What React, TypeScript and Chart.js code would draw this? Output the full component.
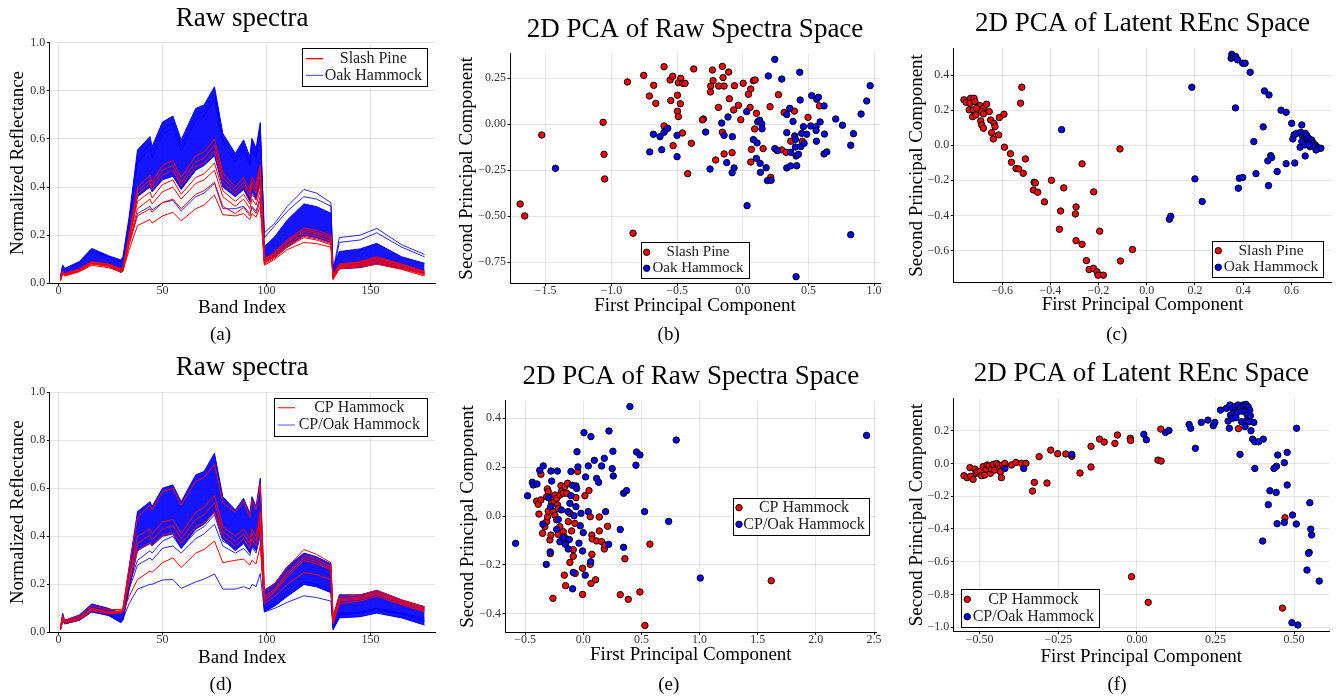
import { useEffect, useRef } from "react";
import { Chart, registerables } from "chart.js";

Chart.register(...registerables);

const SERIF = "'Liberation Serif', 'Times New Roman', 'DejaVu Serif', serif";
const RED = "#ff0000";
const BLUE = "#0000ff";
const GRID = "rgba(0,0,0,0.10)";

// ---------------- Spectra panels (a) and (d) ----------------
const bandIndex = [1, 2, 3, 10, 16, 24, 30, 31, 34, 38, 44, 45, 50, 55, 59, 66, 70, 75, 79, 85, 89, 92, 93, 95, 97, 99, 104, 110, 118, 124, 131, 132, 135, 145, 153, 165, 176];
const bandTicks = [0, 50, 100, 150];
const bandTickLabels = ["0", "50", "100", "150"];
const reflTicks = [0, 0.2, 0.4, 0.6, 0.8, 1.0];
const reflTickLabels = ["0.0", "0.2", "0.4", "0.6", "0.8", "1.0"];

// (a) Slash Pine (red) and Oak Hammock (blue)
const aOakUpper = [0.028, 0.076, 0.062, 0.090, 0.145, 0.115, 0.097, 0.110, 0.277, 0.554, 0.610, 0.568, 0.670, 0.695, 0.596, 0.727, 0.741, 0.817, 0.623, 0.540, 0.596, 0.526, 0.602, 0.561, 0.668, 0.152, 0.194, 0.263, 0.330, 0.319, 0.291, 0.069, 0.132, 0.143, 0.166, 0.110, 0.083];
const aOakLower = [0.010, 0.048, 0.035, 0.055, 0.085, 0.070, 0.045, 0.050, 0.180, 0.360, 0.400, 0.380, 0.430, 0.445, 0.390, 0.470, 0.490, 0.530, 0.400, 0.360, 0.390, 0.340, 0.380, 0.350, 0.420, 0.090, 0.110, 0.150, 0.200, 0.190, 0.170, 0.020, 0.060, 0.065, 0.080, 0.060, 0.040];
const aOakLow = [0.015, 0.045, 0.035, 0.055, 0.085, 0.075, 0.055, 0.060, 0.170, 0.290, 0.320, 0.305, 0.335, 0.345, 0.300, 0.360, 0.375, 0.415, 0.310, 0.310, 0.320, 0.290, 0.320, 0.300, 0.360, 0.090, 0.120, 0.160, 0.200, 0.190, 0.170, 0.020, 0.065, 0.072, 0.085, 0.065, 0.040];
const aOakHigh1 = [0.025, 0.070, 0.058, 0.085, 0.135, 0.110, 0.090, 0.100, 0.260, 0.520, 0.580, 0.540, 0.640, 0.665, 0.570, 0.700, 0.715, 0.790, 0.600, 0.520, 0.575, 0.505, 0.580, 0.540, 0.645, 0.210, 0.250, 0.320, 0.390, 0.375, 0.335, 0.050, 0.190, 0.200, 0.228, 0.160, 0.120];
const aOakHigh2 = [0.025, 0.070, 0.058, 0.085, 0.135, 0.110, 0.090, 0.100, 0.255, 0.500, 0.560, 0.520, 0.620, 0.645, 0.550, 0.680, 0.695, 0.765, 0.580, 0.505, 0.555, 0.490, 0.560, 0.525, 0.625, 0.190, 0.240, 0.300, 0.360, 0.350, 0.320, 0.040, 0.170, 0.180, 0.210, 0.150, 0.110];
const aPine1 = [0.020, 0.050, 0.040, 0.060, 0.090, 0.080, 0.060, 0.065, 0.200, 0.400, 0.450, 0.420, 0.490, 0.510, 0.440, 0.530, 0.545, 0.600, 0.460, 0.400, 0.440, 0.390, 0.440, 0.410, 0.490, 0.100, 0.130, 0.180, 0.230, 0.220, 0.200, 0.030, 0.080, 0.090, 0.110, 0.080, 0.050];
const aPine2 = [0.019, 0.049, 0.039, 0.059, 0.089, 0.079, 0.059, 0.063, 0.195, 0.385, 0.430, 0.405, 0.470, 0.490, 0.420, 0.505, 0.520, 0.575, 0.440, 0.385, 0.420, 0.375, 0.420, 0.390, 0.470, 0.098, 0.125, 0.175, 0.222, 0.212, 0.192, 0.029, 0.078, 0.088, 0.105, 0.078, 0.048];
const aPine3 = [0.018, 0.048, 0.038, 0.058, 0.088, 0.078, 0.058, 0.062, 0.190, 0.370, 0.415, 0.390, 0.450, 0.470, 0.405, 0.485, 0.500, 0.550, 0.420, 0.370, 0.405, 0.360, 0.405, 0.375, 0.450, 0.095, 0.120, 0.170, 0.215, 0.205, 0.185, 0.028, 0.075, 0.085, 0.100, 0.075, 0.045];
const aPine4 = [0.016, 0.045, 0.035, 0.055, 0.085, 0.075, 0.055, 0.060, 0.180, 0.340, 0.380, 0.355, 0.410, 0.430, 0.370, 0.440, 0.455, 0.500, 0.385, 0.340, 0.370, 0.330, 0.370, 0.345, 0.410, 0.090, 0.115, 0.160, 0.205, 0.195, 0.175, 0.025, 0.070, 0.080, 0.095, 0.070, 0.040];
const aPine5 = [0.015, 0.043, 0.033, 0.052, 0.082, 0.072, 0.052, 0.057, 0.170, 0.310, 0.350, 0.330, 0.380, 0.400, 0.350, 0.415, 0.430, 0.470, 0.360, 0.320, 0.350, 0.310, 0.350, 0.325, 0.385, 0.085, 0.110, 0.155, 0.195, 0.185, 0.165, 0.022, 0.068, 0.075, 0.090, 0.065, 0.038];
const aPine6 = [0.015, 0.042, 0.032, 0.050, 0.080, 0.070, 0.050, 0.055, 0.160, 0.280, 0.310, 0.295, 0.335, 0.350, 0.310, 0.370, 0.385, 0.420, 0.320, 0.290, 0.315, 0.280, 0.315, 0.290, 0.345, 0.080, 0.105, 0.150, 0.190, 0.180, 0.160, 0.020, 0.065, 0.072, 0.085, 0.062, 0.035];
const aPine7 = [0.012, 0.040, 0.030, 0.048, 0.075, 0.065, 0.048, 0.052, 0.140, 0.240, 0.265, 0.250, 0.280, 0.295, 0.260, 0.310, 0.325, 0.367, 0.285, 0.280, 0.290, 0.265, 0.290, 0.275, 0.320, 0.075, 0.100, 0.140, 0.170, 0.165, 0.150, 0.015, 0.060, 0.068, 0.080, 0.058, 0.030];

// (d) CP Hammock (red) and CP/Oak Hammock (blue)
const dMixUpper = [0.024, 0.080, 0.050, 0.072, 0.118, 0.100, 0.080, 0.100, 0.274, 0.503, 0.544, 0.524, 0.600, 0.614, 0.544, 0.656, 0.670, 0.746, 0.565, 0.510, 0.558, 0.496, 0.565, 0.524, 0.642, 0.176, 0.204, 0.274, 0.330, 0.315, 0.285, 0.065, 0.156, 0.156, 0.175, 0.135, 0.107];
const dMixLower = [0.010, 0.050, 0.035, 0.050, 0.085, 0.070, 0.040, 0.050, 0.180, 0.340, 0.370, 0.360, 0.400, 0.410, 0.350, 0.430, 0.450, 0.500, 0.390, 0.340, 0.370, 0.330, 0.360, 0.340, 0.420, 0.085, 0.110, 0.150, 0.200, 0.190, 0.165, 0.010, 0.060, 0.065, 0.080, 0.060, 0.030];
const dMixLow1 = [0.012, 0.045, 0.035, 0.050, 0.085, 0.072, 0.050, 0.055, 0.120, 0.180, 0.200, 0.200, 0.218, 0.220, 0.183, 0.210, 0.222, 0.243, 0.180, 0.180, 0.190, 0.180, 0.200, 0.190, 0.245, 0.085, 0.100, 0.125, 0.152, 0.145, 0.130, 0.020, 0.070, 0.080, 0.100, 0.080, 0.060];
const dMixLow2 = [0.014, 0.050, 0.040, 0.055, 0.090, 0.075, 0.050, 0.055, 0.200, 0.300, 0.340, 0.330, 0.380, 0.400, 0.350, 0.420, 0.440, 0.490, 0.380, 0.350, 0.380, 0.340, 0.380, 0.355, 0.430, 0.100, 0.120, 0.160, 0.210, 0.200, 0.180, 0.020, 0.080, 0.085, 0.100, 0.080, 0.050];
const dMixLow3 = [0.013, 0.048, 0.038, 0.052, 0.088, 0.073, 0.050, 0.055, 0.180, 0.280, 0.310, 0.300, 0.350, 0.360, 0.330, 0.390, 0.410, 0.450, 0.360, 0.330, 0.350, 0.320, 0.355, 0.330, 0.400, 0.095, 0.110, 0.150, 0.200, 0.190, 0.170, 0.020, 0.075, 0.080, 0.095, 0.075, 0.045];
const dCp1 = [0.020, 0.070, 0.050, 0.068, 0.110, 0.095, 0.095, 0.100, 0.270, 0.480, 0.530, 0.510, 0.585, 0.600, 0.530, 0.630, 0.645, 0.700, 0.540, 0.500, 0.545, 0.480, 0.550, 0.510, 0.620, 0.170, 0.200, 0.270, 0.345, 0.325, 0.290, 0.060, 0.150, 0.155, 0.175, 0.135, 0.105];
const dCp2 = [0.018, 0.060, 0.045, 0.060, 0.100, 0.085, 0.090, 0.095, 0.230, 0.400, 0.430, 0.410, 0.460, 0.470, 0.410, 0.500, 0.520, 0.570, 0.440, 0.400, 0.430, 0.390, 0.430, 0.400, 0.500, 0.150, 0.180, 0.250, 0.320, 0.305, 0.275, 0.050, 0.140, 0.148, 0.168, 0.130, 0.100];
const dCp3 = [0.017, 0.058, 0.044, 0.058, 0.098, 0.083, 0.088, 0.092, 0.220, 0.370, 0.405, 0.385, 0.430, 0.445, 0.390, 0.470, 0.490, 0.540, 0.420, 0.380, 0.410, 0.370, 0.410, 0.380, 0.470, 0.140, 0.175, 0.240, 0.310, 0.295, 0.265, 0.045, 0.135, 0.142, 0.162, 0.125, 0.095];
const dCp4 = [0.016, 0.055, 0.042, 0.056, 0.095, 0.080, 0.085, 0.090, 0.210, 0.340, 0.375, 0.360, 0.405, 0.415, 0.370, 0.440, 0.455, 0.500, 0.400, 0.360, 0.390, 0.350, 0.390, 0.360, 0.440, 0.130, 0.170, 0.230, 0.300, 0.285, 0.260, 0.040, 0.130, 0.138, 0.158, 0.120, 0.090];
const dCp5 = [0.014, 0.050, 0.038, 0.052, 0.090, 0.078, 0.080, 0.085, 0.150, 0.220, 0.255, 0.250, 0.290, 0.310, 0.270, 0.330, 0.345, 0.380, 0.290, 0.300, 0.305, 0.280, 0.300, 0.285, 0.360, 0.120, 0.150, 0.200, 0.250, 0.240, 0.220, 0.035, 0.120, 0.130, 0.150, 0.115, 0.085];

// ---------------- PCA scatter panels ----------------
type Pt = [number, number];

// (b) raw spectra PCA
const rawPine: Pt[] = [[-1.695,-0.433],[-1.66,-0.498],[-1.53,-0.058],[-1.063,0.011],[-1.056,-0.163],[-1.051,-0.297],[-0.878,0.23],[-0.835,-0.592],[-0.754,0.266],[-0.711,0.154],[-0.678,0.212],[-0.662,0.114],[-0.599,0.313],[-0.599,-0.009],[-0.553,0.241],[-0.548,0.129],[-0.533,0.261],[-0.53,-0.116],[-0.497,0.158],[-0.497,0.071],[-0.49,0.042],[-0.49,0.226],[-0.475,0.112],[-0.472,0.25],[-0.457,0.223],[-0.439,0.223],[-0.459,-0.047],[-0.419,-0.268],[-0.391,-0.103],[-0.373,0.301],[-0.299,0.029],[-0.307,0.024],[-0.246,0.176],[-0.244,0.208],[-0.231,0.295],[-0.226,0.237],[-0.206,-0.194],[-0.185,0.092],[-0.183,0.208],[-0.155,0.315],[-0.15,0.254],[-0.142,0.208],[-0.155,-0.043],[-0.142,-0.161],[-0.107,0.284],[-0.102,0.139],[-0.081,-0.154],[-0.069,0.078],[-0.063,0.21],[-0.033,0.103],[-0.015,0.025],[0.003,0.223],[0.043,0.163],[0.056,0.092],[0.061,0.192],[0.066,-0.136],[0.061,-0.205],[0.081,0.237],[0.094,0.241],[0.091,-0.025],[0.104,0.06],[0.155,-0.132],[0.208,0.096],[0.213,-0.288],[0.272,0.161],[0.297,-0.139],[0.315,0.065],[0.33,-0.152],[0.393,0.072],[0.365,-0.092],[0.454,-0.092],[0.497,0.038],[0.584,0.1]];
const rawOak: Pt[] = [[-1.426,-0.239],[-0.708,-0.15],[-0.68,-0.054],[-0.63,-0.067],[-0.617,-0.138],[-0.599,-0.043],[-0.571,-0.022],[-0.5,-0.06],[-0.5,-0.176],[-0.282,-0.042],[-0.249,-0.243],[-0.16,0.007],[-0.142,-0.06],[-0.122,-0.208],[-0.112,0.04],[-0.079,-0.067],[-0.081,-0.263],[-0.066,-0.237],[0.03,0.069],[0.033,-0.442],[0.081,-0.083],[0.104,-0.185],[0.109,-0.101],[0.114,0.014],[0.129,0.022],[0.135,-0.261],[0.132,-0.212],[0.145,0.002],[0.147,-0.024],[0.178,-0.236],[0.188,-0.306],[0.195,0.263],[0.216,-0.304],[0.244,0.353],[0.244,-0.132],[0.264,-0.143],[0.297,0.246],[0.335,0.053],[0.335,-0.045],[0.335,-0.237],[0.358,0.087],[0.365,-0.152],[0.365,-0.226],[0.383,0.016],[0.396,-0.063],[0.401,-0.082],[0.401,-0.123],[0.406,-0.172],[0.411,-0.225],[0.424,-0.163],[0.406,-0.828],[0.434,0.283],[0.437,0.132],[0.442,-0.121],[0.449,-0.049],[0.462,-0.013],[0.467,-0.103],[0.487,-0.054],[0.525,0.156],[0.518,-0.009],[0.558,-0.013],[0.558,-0.034],[0.563,0.136],[0.576,0.147],[0.561,-0.092],[0.589,0.013],[0.619,0.1],[0.622,-0.053],[0.619,-0.161],[0.64,-0.15],[0.708,0.029],[0.759,-0.005],[0.822,-0.114],[0.822,-0.6],[0.843,-0.051],[0.901,0.056],[0.944,0.127],[0.97,0.21]];

// (c) latent REnc PCA
const latentPine: Pt[] = [[-0.758,0.259],[-0.749,0.245],[-0.73,0.268],[-0.716,0.268],[-0.733,0.24],[-0.712,0.249],[-0.698,0.221],[-0.691,0.226],[-0.736,0.202],[-0.719,0.202],[-0.705,0.211],[-0.677,0.211],[-0.664,0.234],[-0.722,0.163],[-0.708,0.173],[-0.684,0.192],[-0.677,0.179],[-0.653,0.192],[-0.688,0.139],[-0.684,0.116],[-0.677,0.097],[-0.647,0.144],[-0.633,0.125],[-0.629,0.106],[-0.643,0.072],[-0.636,0.036],[-0.614,0.059],[-0.611,0.158],[-0.592,0.177],[-0.518,0.331],[-0.523,0.24],[-0.59,-0.011],[-0.565,-0.048],[-0.561,-0.097],[-0.503,-0.078],[-0.542,-0.133],[-0.531,-0.135],[-0.512,-0.16],[-0.467,-0.211],[-0.462,-0.215],[-0.47,-0.255],[-0.452,-0.268],[-0.424,-0.323],[-0.395,-0.2],[-0.344,-0.243],[-0.357,-0.375],[-0.362,-0.479],[-0.293,-0.352],[-0.296,-0.392],[-0.268,-0.106],[-0.22,-0.266],[-0.195,-0.49],[-0.293,-0.544],[-0.268,-0.565],[-0.25,-0.658],[-0.239,-0.709],[-0.221,-0.702],[-0.206,-0.722],[-0.202,-0.741],[-0.18,-0.741],[-0.111,-0.021],[-0.109,-0.66],[-0.059,-0.595]];
const latentOak: Pt[] = [[-0.353,0.089],[0.094,-0.422],[0.0995,-0.405],[0.353,0.519],[0.35,0.496],[0.359,0.506],[0.369,0.506],[0.377,0.487],[0.398,0.468],[0.408,0.468],[0.429,0.416],[0.187,0.331],[0.368,0.213],[0.488,0.31],[0.507,0.287],[0.557,0.2],[0.578,0.188],[0.601,0.125],[0.643,0.116],[0.483,0.105],[0.444,0.021],[0.514,-0.059],[0.518,-0.07],[0.502,-0.089],[0.578,-0.105],[0.614,-0.101],[0.541,-0.15],[0.453,-0.162],[0.384,-0.188],[0.398,-0.184],[0.38,-0.245],[0.505,-0.23],[0.2,-0.192],[0.23,-0.321],[0.636,-0.011],[0.657,-0.061],[0.606,0.036],[0.611,0.059],[0.622,0.068],[0.639,0.074],[0.647,0.049],[0.657,0.068],[0.664,0.055],[0.65,0.03],[0.671,0.04],[0.677,0.021],[0.684,0.03],[0.691,0.011],[0.698,0.002],[0.705,-0.008],[0.712,-0.017],[0.722,-0.017],[0.702,-0.027],[0.677,-0.008],[0.666,0.011],[0.688,-0.002],[0.643,0.021],[0.657,0.002],[0.675,0.002]];

// (e) raw spectra PCA
const rawCp: Pt[] = [[-0.364,0.171],[-0.401,0.061],[-0.387,0.048],[-0.364,0.066],[-0.381,0.008],[-0.35,-0.071],[-0.33,-0.044],[-0.315,-0.023],[-0.307,-0.003],[-0.301,0.02],[-0.309,0.111],[-0.301,0.1],[-0.315,0.079],[-0.287,-0.098],[-0.278,-0.078],[-0.284,-0.154],[-0.272,0.056],[-0.258,0.018],[-0.249,0.061],[-0.258,0.079],[-0.244,0.086],[-0.229,0.072],[-0.221,0.045],[-0.215,0.031],[-0.201,0.086],[-0.192,0.124],[-0.186,0.102],[-0.172,0.093],[-0.158,0.12],[-0.143,0.093],[-0.135,0.134],[-0.244,0.004],[-0.229,-0.016],[-0.201,-0.044],[-0.215,-0.075],[-0.172,-0.064],[-0.163,-0.085],[-0.143,-0.102],[-0.129,-0.023],[-0.115,0.011],[-0.1,-0.061],[-0.086,-0.138],[-0.086,-0.165],[-0.115,-0.19],[-0.163,-0.242],[-0.152,-0.285],[-0.069,-0.235],[-0.063,0.075],[-0.049,0.182],[-0.072,-0.03],[0.014,0.083],[0.049,0.104],[-0.006,-0.214],[-0.006,-0.321],[0.06,-0.003],[0.074,-0.078],[0.077,-0.094],[0.06,-0.198],[0.074,-0.157],[0.066,-0.276],[0.106,-0.261],[0.138,-0.004],[0.138,-0.061],[0.115,-0.102],[0.158,-0.105],[0.181,-0.135],[0.186,-0.119],[0.209,-0.042],[-0.261,-0.337],[1.616,-0.265],[0.573,-0.115],[0.53,-0.448],[0.487,-0.311],[0.387,-0.341],[0.318,-0.322],[0.358,-0.175]];
const rawCpOak: Pt[] = [[-0.582,-0.112],[0.401,0.448],[0.221,0.348],[0.006,0.341],[0.066,0.325],[0.799,0.311],[2.436,0.33],[0.255,0.265],[0.458,0.262],[0.487,0.25],[0.453,0.208],[0.527,0.018],[0.734,-0.022],[1.006,-0.254],[0.347,0.093],[0.372,0.104],[0.318,-0.055],[0.347,-0.128],[-0.479,0.083],[-0.438,0.138],[-0.43,0.127],[-0.398,0.131],[-0.375,0.187],[-0.344,0.205],[-0.278,0.184],[-0.223,0.184],[-0.272,0.143],[-0.347,-0.033],[-0.298,0.075],[-0.281,0.038],[-0.318,-0.198],[-0.284,-0.147],[-0.229,-0.055],[-0.215,-0.014],[-0.201,-0.105],[-0.172,-0.089],[-0.155,-0.116],[-0.129,-0.135],[-0.12,-0.096],[-0.189,0.025],[-0.132,0.018],[-0.106,0.182],[-0.095,0.126],[-0.106,0.083],[-0.115,0.052],[-0.08,0.001],[-0.063,0.123],[-0.057,0.113],[-0.063,0.038],[-0.054,0.263],[-0.046,0.201],[-0.02,0.011],[-0.026,-0.04],[-0.037,-0.111],[-0.006,-0.143],[0.0,-0.068],[-0.086,-0.231],[-0.092,-0.298],[0.017,-0.242],[0.02,0.16],[0.043,0.205],[0.043,0.018],[0.063,-0.187],[0.095,0.228],[0.115,0.154],[0.132,0.138],[0.158,0.205],[0.181,0.236],[0.249,0.194],[0.258,0.164],[0.192,0.018],[0.218,-0.116]];

// (f) latent REnc PCA
const latentCp: Pt[] = [[-0.55,-0.075],[-0.54,-0.087],[-0.531,-0.026],[-0.529,-0.079],[-0.521,-0.098],[-0.515,-0.035],[-0.512,-0.061],[-0.508,-0.051],[-0.497,-0.047],[-0.494,-0.075],[-0.489,-0.02],[-0.484,-0.071],[-0.48,-0.035],[-0.476,-0.01],[-0.47,-0.014],[-0.466,-0.061],[-0.462,-0.035],[-0.457,-0.006],[-0.452,-0.041],[-0.446,0.0],[-0.441,-0.01],[-0.436,-0.031],[-0.434,-0.051],[-0.431,-0.087],[-0.427,-0.01],[-0.42,0.0],[-0.399,-0.01],[-0.385,0.006],[-0.367,0.0],[-0.353,0.0],[-0.311,0.041],[-0.326,-0.116],[-0.332,-0.169],[-0.286,-0.12],[-0.274,0.081],[-0.252,0.059],[-0.226,0.057],[-0.207,0.043],[-0.181,-0.059],[-0.146,0.104],[-0.146,-0.022],[-0.119,0.148],[-0.104,0.13],[-0.07,0.122],[-0.062,0.173],[-0.021,0.153],[-0.02,0.14],[0.067,0.02],[0.077,0.014],[0.076,0.209],[-0.017,-0.691],[0.036,-0.848],[0.323,0.212],[0.471,-0.332],[0.463,-0.883]];
const latentCpOak: Pt[] = [[-0.42,-0.031],[-0.36,-0.031],[-0.207,0.055],[0.022,0.177],[0.03,0.144],[0.091,0.189],[0.102,0.201],[0.166,0.238],[0.171,0.214],[0.186,0.092],[0.205,0.25],[0.226,0.264],[0.243,0.23],[0.248,0.25],[0.266,0.325],[0.285,0.336],[0.296,0.356],[0.304,0.336],[0.312,0.346],[0.322,0.356],[0.33,0.336],[0.338,0.356],[0.347,0.36],[0.354,0.346],[0.359,0.325],[0.298,0.295],[0.309,0.305],[0.319,0.311],[0.333,0.319],[0.344,0.315],[0.351,0.295],[0.361,0.291],[0.29,0.258],[0.304,0.275],[0.315,0.279],[0.333,0.254],[0.347,0.258],[0.357,0.254],[0.372,0.25],[0.294,0.214],[0.344,0.224],[0.363,0.199],[0.368,0.148],[0.375,0.132],[0.387,0.132],[0.402,0.148],[0.328,0.055],[0.375,-0.031],[0.448,0.051],[0.478,0.067],[0.469,0.004],[0.444,-0.018],[0.436,-0.031],[0.478,-0.132],[0.423,-0.167],[0.443,-0.177],[0.418,-0.252],[0.495,-0.315],[0.469,-0.36],[0.446,-0.368],[0.507,-0.37],[0.4,-0.474],[0.55,-0.24],[0.553,-0.401],[0.556,-0.437],[0.548,-0.543],[0.546,-0.549],[0.541,-0.651],[0.58,-0.718],[0.493,-0.972],[0.512,-0.986],[0.508,0.214]];

// tick values / labels
const bX = [-1.5, -1.0, -0.5, 0.0, 0.5, 1.0];
const bXL = ["\u22121.5", "\u22121.0", "\u22120.5", "0.0", "0.5", "1.0"];
const bY = [0.25, 0.0, -0.25, -0.5, -0.75];
const bYL = ["0.25", "0.00", "\u22120.25", "\u22120.50", "\u22120.75"];
const cX = [-0.6, -0.4, -0.2, 0.0, 0.2, 0.4, 0.6];
const cXL = ["\u22120.6", "\u22120.4", "\u22120.2", "0.0", "0.2", "0.4", "0.6"];
const cY = [0.4, 0.2, 0.0, -0.2, -0.4, -0.6];
const cYL = ["0.4", "0.2", "0.0", "\u22120.2", "\u22120.4", "\u22120.6"];
const eX = [-0.5, 0.0, 0.5, 1.0, 1.5, 2.0, 2.5];
const eXL = ["\u22120.5", "0.0", "0.5", "1.0", "1.5", "2.0", "2.5"];
const eY = [0.4, 0.2, 0.0, -0.2, -0.4];
const eYL = ["0.4", "0.2", "0.0", "\u22120.2", "\u22120.4"];
const fX = [-0.5, -0.25, 0.0, 0.25, 0.5];
const fXL = ["\u22120.50", "\u22120.25", "0.00", "0.25", "0.50"];
const fY = [0.2, 0.0, -0.2, -0.4, -0.6, -0.8, -1.0];
const fYL = ["0.2", "0.0", "\u22120.2", "\u22120.4", "\u22120.6", "\u22120.8", "\u22121.0"];

// ---------------- helpers ----------------
type Rect = { x: number; y: number; w: number; h: number };
type Plot = { l: number; t: number; r: number; b: number };
type LegendItem = { label: string; color: string; width?: number };
type LegendSpec = {
  kind: "line" | "dot";
  box: [number, number, number, number];
  m1: number;
  m2?: number;
  rows: number[];
  tx: number;
  size: number;
  items: LegendItem[];
};
interface PanelSpec {
  kind: "line" | "scatter";
  cell: Rect;
  plot: Plot;
  xr: [number, number];
  yr: [number, number];
  xTicks: number[];
  xLabels: string[];
  yTicks: number[];
  yLabels: string[];
  title: string;
  xTitle: string;
  yTitle: string;
  caption: string;
  titleY: number;
  xTitleY: number;
  yTitleX: number;
  captionX: number;
  captionY: number;
  legend: LegendSpec;
  datasets: any[];
}

const TITLE_SIZE = 27;
const AXIS_SIZE = 19;
const TICK_SIZE = 12;
const CAPTION_SIZE = 19;
const LH = 1.2;
const TICK_LEN = 2.5;

function lineDs(values: number[], color: string, width = 1, extra: any = {}) {
  return {
    data: bandIndex.map((b, i) => ({ x: b, y: values[i] })),
    borderColor: color,
    backgroundColor: color,
    borderWidth: width,
    pointRadius: 0,
    tension: 0,
    fill: false,
    ...extra,
  };
}

function dotDs(points: Pt[], color: string) {
  return {
    data: points.map(([x, y]) => ({ x, y })),
    backgroundColor: color,
    borderColor: "#000",
    borderWidth: 1,
    pointRadius: 3.2,
    pointHoverRadius: 3.2,
  };
}

function labelOf(v: number, ticks: number[], labels: string[]) {
  const i = ticks.findIndex((t) => Math.abs(t - v) < 1e-9);
  return i >= 0 ? labels[i] : "";
}

function makeDecor(s: PanelSpec) {
  return {
    id: "decor",
    afterDraw(chart: any) {
      const ctx: CanvasRenderingContext2D = chart.ctx;
      const ox = s.cell.x;
      const oy = s.cell.y;
      const L = s.legend;
      ctx.save();
      const x1 = Math.round(L.box[0] - ox) + 0.5;
      const y1 = Math.round(L.box[1] - oy) + 0.5;
      const x2 = Math.round(L.box[2] - ox) + 0.5;
      const y2 = Math.round(L.box[3] - oy) + 0.5;
      ctx.fillStyle = "#fff";
      ctx.fillRect(x1, y1, x2 - x1, y2 - y1);
      ctx.strokeStyle = "#000";
      ctx.lineWidth = 1;
      ctx.strokeRect(x1, y1, x2 - x1, y2 - y1);
      L.items.forEach((it, i) => {
        const y = L.rows[i] - oy;
        if (L.kind === "line") {
          ctx.strokeStyle = it.color;
          ctx.lineWidth = it.width ?? 1;
          ctx.beginPath();
          ctx.moveTo(L.m1 - ox, y);
          ctx.lineTo((L.m2 ?? L.m1) - ox, y);
          ctx.stroke();
        } else {
          ctx.beginPath();
          ctx.arc(L.m1 - ox, y, 3.2, 0, Math.PI * 2);
          ctx.fillStyle = it.color;
          ctx.fill();
          ctx.strokeStyle = "#000";
          ctx.lineWidth = 1;
          ctx.stroke();
        }
        ctx.fillStyle = "#222";
        ctx.font = `${L.size}px ${SERIF}`;
        ctx.textAlign = "center";
        ctx.textBaseline = "middle";
        ctx.fillText(it.label, L.tx - ox, y);
      });
      ctx.fillStyle = "#000";
      ctx.font = `${CAPTION_SIZE}px ${SERIF}`;
      ctx.textAlign = "center";
      ctx.textBaseline = "middle";
      ctx.fillText(s.caption, s.captionX - ox, s.captionY - oy);
      ctx.restore();
    },
  };
}

function buildConfig(s: PanelSpec): any {
  const cx = s.cell.x;
  const cy = s.cell.y;
  const tLH = TITLE_SIZE * LH;
  const aLH = AXIS_SIZE * LH;
  const kLH = TICK_SIZE * LH;
  const titleTop = s.titleY - cy - tLH / 2;
  const titleBottom = s.plot.t - cy - titleTop - tLH;
  const xAxisBottom = s.xTitleY + aLH / 2;
  const xAxisH = xAxisBottom - s.plot.b;
  const yAxisW = s.plot.l - cx;
  const yTitlePad = s.yTitleX - cx - aLH / 2;
  const xTickPad = 7.7 - kLH / 2 - TICK_LEN;
  const tickFont = { family: SERIF, size: TICK_SIZE, weight: "normal" as const, lineHeight: LH };
  const axisFont = { family: SERIF, size: AXIS_SIZE, weight: "normal" as const, lineHeight: LH };
  const grid = { color: GRID, tickColor: "#000", tickLength: TICK_LEN, drawTicks: true, lineWidth: 1 };
  const border = { display: true, color: "#000", width: 1 };
  return {
    type: s.kind,
    data: { datasets: s.datasets },
    plugins: [makeDecor(s)],
    options: {
      responsive: false,
      maintainAspectRatio: false,
      animation: false,
      events: [],
      devicePixelRatio: 1,
      layout: {
        padding: {
          left: 0,
          top: 0,
          right: cx + s.cell.w - s.plot.r,
          bottom: cy + s.cell.h - xAxisBottom,
        },
      },
      plugins: {
        legend: { display: false },
        tooltip: { enabled: false },
        title: {
          display: true,
          text: s.title,
          fullSize: false,
          color: "#000",
          font: { family: SERIF, size: TITLE_SIZE, weight: "normal", lineHeight: LH },
          padding: { top: titleTop, bottom: titleBottom },
        },
      },
      scales: {
        x: {
          type: "linear",
          position: "bottom",
          min: s.xr[0],
          max: s.xr[1],
          afterBuildTicks: (sc: any) => {
            sc.ticks = s.xTicks.map((v) => ({ value: v }));
          },
          afterFit: (sc: any) => {
            sc.height = xAxisH;
          },
          ticks: {
            callback: (v: number) => labelOf(v, s.xTicks, s.xLabels),
            font: tickFont,
            color: "#333",
            padding: xTickPad,
            autoSkip: false,
            maxRotation: 0,
            minRotation: 0,
          },
          grid,
          border,
          title: {
            display: true,
            text: s.xTitle,
            color: "#000",
            font: axisFont,
            padding: { top: 0, bottom: 0 },
          },
        },
        y: {
          type: "linear",
          position: "left",
          min: s.yr[0],
          max: s.yr[1],
          afterBuildTicks: (sc: any) => {
            sc.ticks = s.yTicks.map((v) => ({ value: v }));
          },
          afterFit: (sc: any) => {
            sc.width = yAxisW;
          },
          ticks: {
            callback: (v: number) => labelOf(v, s.yTicks, s.yLabels),
            font: tickFont,
            color: "#333",
            padding: 1.5,
            autoSkip: false,
          },
          grid,
          border,
          title: {
            display: true,
            text: s.yTitle,
            color: "#000",
            font: axisFont,
            padding: { top: yTitlePad, bottom: 0 },
          },
        },
      },
    },
  };
}

// ---------------- panel specs ----------------
const BUNDLE_FILL = "rgba(0,0,255,0.92)";
const BUNDLE_LINE = "rgba(0,0,255,0.85)";

const panels: PanelSpec[] = [
  {
    kind: "line",
    cell: { x: 0, y: 0, w: 447, h: 349 },
    plot: { l: 49.3, t: 42.7, r: 435, b: 283.3 },
    xr: [-4.4, 181],
    yr: [0, 1],
    xTicks: bandTicks,
    xLabels: bandTickLabels,
    yTicks: reflTicks,
    yLabels: reflTickLabels,
    title: "Raw spectra",
    xTitle: "Band Index",
    yTitle: "Normalized Reflectance",
    caption: "(a)",
    titleY: 19.4,
    xTitleY: 307.9,
    yTitleX: 17.6,
    captionX: 220.5,
    captionY: 335.2,
    legend: {
      kind: "line",
      box: [302.3, 48.3, 427.3, 86],
      m1: 306,
      m2: 323.3,
      rows: [58.7, 75.3],
      tx: 373.3,
      size: 16,
      items: [
        { label: "Slash Pine", color: RED, width: 1.3 },
        { label: "Oak Hammock", color: "#3a3aff", width: 1 },
      ],
    },
    datasets: [
      lineDs(aPine1, RED),
      lineDs(aPine2, RED),
      lineDs(aPine3, RED),
      lineDs(aPine4, RED),
      lineDs(aPine5, RED),
      lineDs(aPine6, RED),
      lineDs(aPine7, RED),
      lineDs(aOakLow, BUNDLE_LINE),
      lineDs(aOakHigh1, BUNDLE_LINE),
      lineDs(aOakHigh2, BUNDLE_LINE),
      lineDs(aOakUpper, BLUE, 1, { fill: "+1", backgroundColor: BUNDLE_FILL }),
      lineDs(aOakLower, BLUE),
    ],
  },
  {
    kind: "scatter",
    cell: { x: 447, y: 0, w: 447, h: 349 },
    plot: { l: 510, t: 53.3, r: 880, b: 283.3 },
    xr: [-1.772, 1.045],
    yr: [-0.864, 0.386],
    xTicks: bX,
    xLabels: bXL,
    yTicks: bY,
    yLabels: bYL,
    title: "2D PCA of Raw Spectra Space",
    xTitle: "First Principal Component",
    yTitle: "Second Principal Component",
    caption: "(b)",
    titleY: 29.9,
    xTitleY: 305.9,
    yTitleX: 466.9,
    captionX: 668.7,
    captionY: 335.2,
    legend: {
      kind: "dot",
      box: [641, 242.3, 749.3, 278.3],
      m1: 646.7,
      rows: [252.3, 268.3],
      tx: 698,
      size: 15,
      items: [
        { label: "Slash Pine", color: RED },
        { label: "Oak Hammock", color: BLUE },
      ],
    },
    datasets: [dotDs(rawOak, BLUE), dotDs(rawPine, RED)],
  },
  {
    kind: "scatter",
    cell: { x: 894, y: 0, w: 448, h: 349 },
    plot: { l: 953.3, t: 48.3, r: 1331.7, b: 282.7 },
    xr: [-0.802, 0.767],
    yr: [-0.784, 0.553],
    xTicks: cX,
    xLabels: cXL,
    yTicks: cY,
    yLabels: cYL,
    title: "2D PCA of Latent REnc Space",
    xTitle: "First Principal Component",
    yTitle: "Second Principal Component",
    caption: "(c)",
    titleY: 24.2,
    xTitleY: 305.3,
    yTitleX: 916.9,
    captionX: 1116.7,
    captionY: 335,
    legend: {
      kind: "dot",
      box: [1212.3, 240.7, 1323.3, 277.3],
      m1: 1218.3,
      rows: [250.7, 267.3],
      tx: 1271,
      size: 15.5,
      items: [
        { label: "Slash Pine", color: RED },
        { label: "Oak Hammock", color: BLUE },
      ],
    },
    datasets: [dotDs(latentOak, BLUE), dotDs(latentPine, RED)],
  },
  {
    kind: "line",
    cell: { x: 0, y: 349, w: 447, h: 349 },
    plot: { l: 49.3, t: 392.3, r: 435, b: 632.3 },
    xr: [-4.4, 181],
    yr: [0, 1],
    xTicks: bandTicks,
    xLabels: bandTickLabels,
    yTicks: reflTicks,
    yLabels: reflTickLabels,
    title: "Raw spectra",
    xTitle: "Band Index",
    yTitle: "Normalized Reflectance",
    caption: "(d)",
    titleY: 368.2,
    xTitleY: 657.9,
    yTitleX: 17.6,
    captionX: 220.7,
    captionY: 685.2,
    legend: {
      kind: "line",
      box: [274, 397.7, 427.3, 436],
      m1: 277.7,
      m2: 295,
      rows: [407.7, 425],
      tx: 359.3,
      size: 16,
      items: [
        { label: "CP Hammock", color: "#ff3030", width: 1.2 },
        { label: "CP/Oak Hammock", color: "#7070ff", width: 1.2 },
      ],
    },
    datasets: [
      lineDs(dCp1, RED),
      lineDs(dCp2, RED),
      lineDs(dCp3, RED),
      lineDs(dCp4, RED),
      lineDs(dCp5, RED),
      lineDs(dMixLow1, BUNDLE_LINE),
      lineDs(dMixLow2, BUNDLE_LINE),
      lineDs(dMixLow3, BUNDLE_LINE),
      lineDs(dMixUpper, BLUE, 1, { fill: "+1", backgroundColor: BUNDLE_FILL }),
      lineDs(dMixLower, BLUE),
    ],
  },
  {
    kind: "scatter",
    cell: { x: 447, y: 349, w: 447, h: 349 },
    plot: { l: 505, t: 400.7, r: 876.7, b: 632.3 },
    xr: [-0.673, 2.523],
    yr: [-0.476, 0.472],
    xTicks: eX,
    xLabels: eXL,
    yTicks: eY,
    yLabels: eYL,
    title: "2D PCA of Raw Spectra Space",
    xTitle: "First Principal Component",
    yTitle: "Second Principal Component",
    caption: "(e)",
    titleY: 376.6,
    xTitleY: 655.3,
    yTitleX: 467.9,
    captionX: 668.7,
    captionY: 685.2,
    legend: {
      kind: "dot",
      box: [733.3, 497.7, 869.3, 535],
      m1: 739,
      rows: [507.7, 524.3],
      tx: 804,
      size: 16,
      items: [
        { label: "CP Hammock", color: RED },
        { label: "CP/Oak Hammock", color: BLUE },
      ],
    },
    datasets: [dotDs(rawCpOak, BLUE), dotDs(rawCp, RED)],
  },
  {
    kind: "scatter",
    cell: { x: 894, y: 349, w: 448, h: 349 },
    plot: { l: 953.3, t: 398.3, r: 1329.3, b: 631.7 },
    xr: [-0.584, 0.612],
    yr: [-1.027, 0.397],
    xTicks: fX,
    xLabels: fXL,
    yTicks: fY,
    yLabels: fYL,
    title: "2D PCA of Latent REnc Space",
    xTitle: "First Principal Component",
    yTitle: "Second Principal Component",
    caption: "(f)",
    titleY: 374.2,
    xTitleY: 656.9,
    yTitleX: 916.9,
    captionX: 1117,
    captionY: 685,
    legend: {
      kind: "dot",
      box: [961, 589.3, 1099.3, 626.7],
      m1: 967.3,
      rows: [599.3, 616.7],
      tx: 1033.3,
      size: 16,
      items: [
        { label: "CP Hammock", color: RED },
        { label: "CP/Oak Hammock", color: BLUE },
      ],
    },
    datasets: [dotDs(latentCpOak, BLUE), dotDs(latentCp, RED)],
  },
];

function Panel({ spec }: { spec: PanelSpec }) {
  const ref = useRef<HTMLCanvasElement | null>(null);
  useEffect(() => {
    if (!ref.current) return;
    const chart = new Chart(ref.current, buildConfig(spec));
    return () => chart.destroy();
  }, [spec]);
  return (
    <canvas
      ref={ref}
      width={spec.cell.w}
      height={spec.cell.h}
      style={{
        position: "absolute",
        left: spec.cell.x,
        top: spec.cell.y,
        width: spec.cell.w,
        height: spec.cell.h,
      }}
    />
  );
}

export default function App() {
  return (
    <div
      style={{
        position: "absolute",
        left: 0,
        top: 0,
        width: 1342,
        height: 698,
        background: "#fff",
        overflow: "hidden",
      }}
    >
      {panels.map((p) => (
        <Panel key={p.caption} spec={p} />
      ))}
    </div>
  );
}
